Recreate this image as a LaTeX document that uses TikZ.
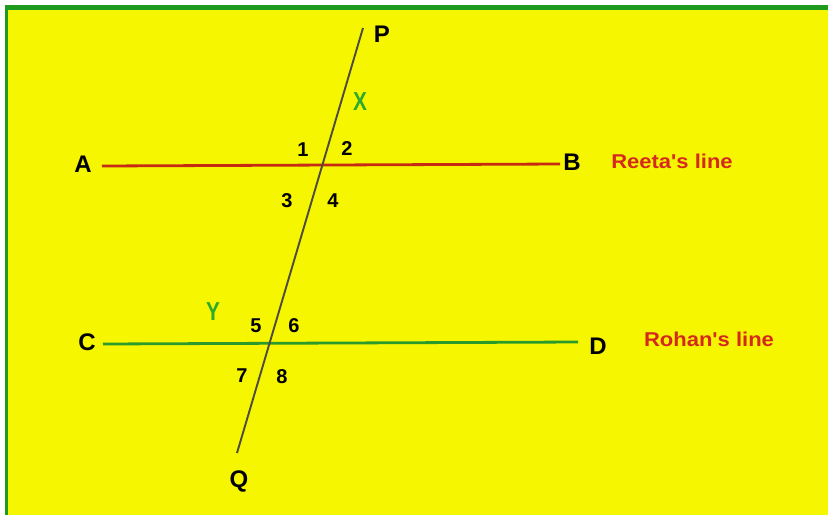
\documentclass[tikz,border=0pt]{standalone}
\usepackage{fontspec}
\setmainfont{Liberation Sans}
\usepackage{tikz}
\usetikzlibrary{calc}
\definecolor{bgYellow}{HTML}{F6F600}
\definecolor{frameGreen}{HTML}{1E9A1E}
\definecolor{lineRed}{HTML}{C62A12}
\definecolor{lineGreen}{HTML}{2A9A2A}
\definecolor{textRed}{HTML}{D42A1E}
\definecolor{textGreen}{HTML}{2EAA2E}
\colorlet{transversal}{black!80!yellow}

\begin{document}
\begin{tikzpicture}[x=1pt, y=-1pt,
  pt/.style={font=\bfseries\fontsize{24}{24}\selectfont},
  num/.style={font=\bfseries\fontsize{20}{20}\selectfont},
  tag/.style={font=\bfseries\fontsize{20}{20}\selectfont, xscale=1.1, text=textRed},
  ptmark/.style={font=\bfseries\fontsize{26}{26}\selectfont, xscale=0.8, text=textGreen}]
  % frame and background
  \fill[white] (0, 0) rectangle (828, 515);
  \fill[frameGreen] (5, 5) rectangle (828, 515);
  \fill[bgYellow] (8, 10) rectangle (828, 515);
  \useasboundingbox (0, 0) rectangle (828, 515);
  % line ends
  \coordinate (a) at (102, 166);
  \coordinate (b) at (560, 164);
  \coordinate (c) at (103, 344);
  \coordinate (d) at (578, 342);
  \coordinate (p) at (363, 28);
  \coordinate (q) at (237, 453);
  \draw[lineRed, line width=2.8pt] (a) -- (b);
  \draw[lineGreen, line width=2.8pt] (c) -- (d);
  \draw[transversal, line width=1.9pt] (p) -- (q);
  % end labels
  \node[pt] (lA) at (83, 164) {A};
  \node[pt] (lB) at (572, 162) {B};
  \node[pt] (lC) at (87, 342) {C};
  \node[pt] (lD) at (598, 346) {D};
  \node[pt] (lP) at (382, 34) {P};
  \node[pt] (lQ) at (239, 481) {Q};
  % angle numbers
  \node[num] (n1) at (303, 150) {1};
  \node[num] (n2) at (347, 149) {2};
  \node[num] (n3) at (287, 201) {3};
  \node[num] (n4) at (333, 201) {4};
  \node[num] (n5) at (256, 326) {5};
  \node[num] (n6) at (294, 326) {6};
  \node[num] (n7) at (242, 376) {7};
  \node[num] (n8) at (282, 377) {8};
  % points on the transversal
  \node[ptmark] (mX) at (360, 102) {X};
  \node[ptmark] (mY) at (213, 312) {Y};
  % line names
  \node[tag] (reeta) at (672, 161) {Reeta\textquotesingle s line};
  \node[tag] (rohan) at (709, 339) {Rohan\textquotesingle s line};
\end{tikzpicture}
\end{document}
